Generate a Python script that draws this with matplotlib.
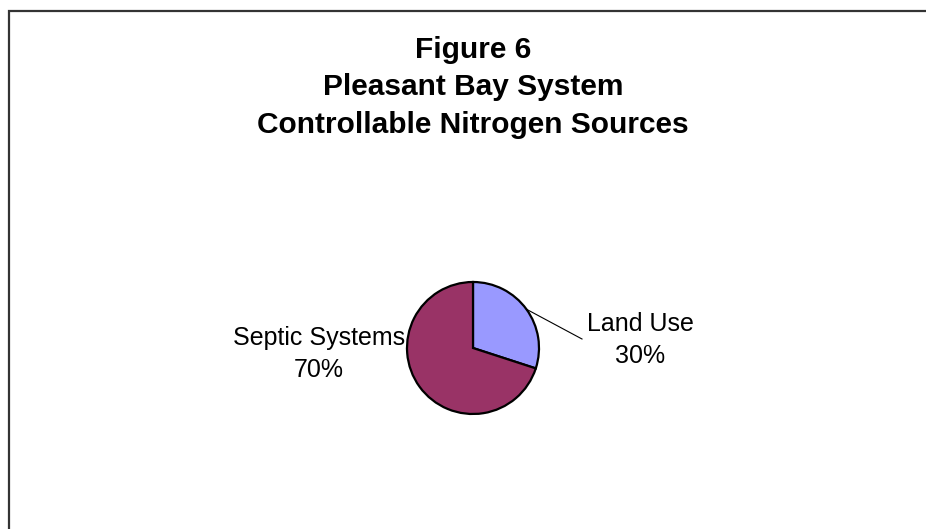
import matplotlib
matplotlib.use("Agg")
import matplotlib.pyplot as plt
import numpy as np

plt.rcParams["font.family"] = ["Liberation Sans", "DejaVu Sans"]

title_lines = ["Figure 6",
               "Pleasant Bay System",
               "Controllable Nitrogen Sources"]
sources = ["Land Use", "Septic Systems"]
shares = [30, 70]
colors = ["#9999FF", "#993366"]

W, H = 926, 529
fig = plt.figure(figsize=(W / 100, H / 100), dpi=100)
fig.patch.set_facecolor("white")

# whole-figure axes in pixel units (y up)
ax = fig.add_axes([0, 0, 1, 1])
ax.set_xlim(0, W)
ax.set_ylim(0, H)
ax.set_aspect("equal")
ax.axis("off")

# chart area border: only top and left edges visible
ax.plot([9, 9, W + 5], [-5, H - 11, H - 11],
        color="#333333", lw=1.6, solid_joinstyle="miter")

# title
for line, base in zip(title_lines, [58, 95, 133]):
    ax.text(473, H - base, line, ha="center", va="baseline",
            fontsize=21.5, fontweight="bold", color="black")

cx, cy, r = 473, H - 348, 66
wedges, _ = ax.pie(shares, colors=colors, startangle=90,
                   counterclock=False, center=(cx, cy), radius=r,
                   wedgeprops=dict(edgecolor="black", linewidth=1.6),
                   frame=True)
ax.set_xlim(0, W)
ax.set_ylim(0, H)
ax.axis("off")

# leader line for Land Use
w = wedges[0]
mid = np.deg2rad((w.theta1 + w.theta2) / 2)
ax.plot([cx + r * np.cos(mid), 582], [cy + r * np.sin(mid), H - 339],
        color="black", lw=0.8)

for name, val, x, y in [(sources[0], shares[0], 640, 331),
                        (sources[1], shares[1], 319, 345)]:
    ax.text(x, H - y, name, ha="center", va="baseline", fontsize=18)
    ax.text(x, H - y - 32, f"{val}%", ha="center", va="baseline",
            fontsize=18)

fig.savefig("out.png", dpi=100, facecolor="white")
